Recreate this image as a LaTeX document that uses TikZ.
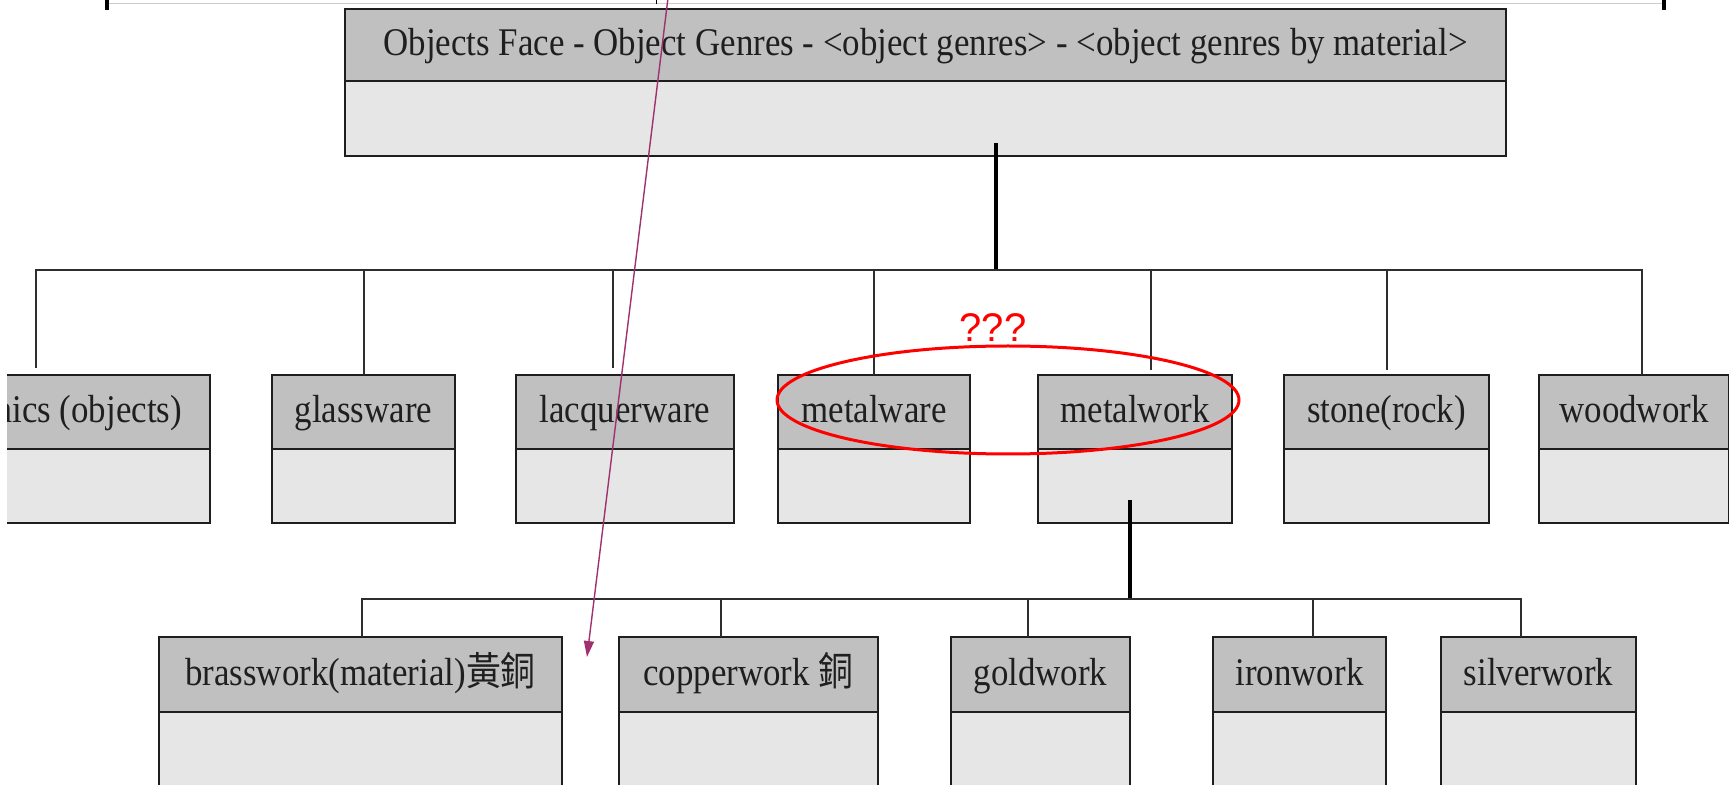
\documentclass[tikz,border=0pt]{standalone}
\usepackage{fontspec}
\setmainfont{Liberation Serif}[FakeStretch=0.89]
\newfontfamily\cjk{Noto Sans CJK TC}[FakeStretch=0.89]
\newfontfamily\notefont{Liberation Sans}
\usetikzlibrary{arrows.meta, positioning, shapes.geometric}
\definecolor{headgray}{HTML}{C0C0C0}
\definecolor{bodygray}{HTML}{E6E6E6}
\definecolor{boxline}{HTML}{1E1E1E}
\definecolor{wirec}{HTML}{2E2E2E}
\definecolor{plum}{HTML}{A0306E}

\begin{document}
\begin{tikzpicture}[x=0.5pt, y=-0.5pt,
    head/.style={draw=boxline, line width=1.4pt, fill=headgray, outer sep=0pt,
                 inner sep=0pt, minimum height=37pt, text=black!88,
                 text height=16pt, text depth=5pt, font=\fontsize{19.6}{22}\selectfont},
    body/.style={draw=boxline, line width=1.4pt, fill=bodygray, outer sep=0pt,
                 inner sep=0pt, minimum height=37pt, below=0pt of #1},
    wire/.style={draw=wirec, line width=1pt},
    trunk/.style={draw=black, line width=1.6pt},
  ]
    \useasboundingbox (0,0) rectangle (1729,785);
    \clip (7,0) rectangle (1729,785);

    % cropped page rule at the top
    \coordinate (rulel) at (107,4);
    \coordinate (ruler) at (1664,4);
    \coordinate (rulem) at (656,4);
    \draw[gray!40, line width=0.5pt] (rulel) -- (ruler);
    \draw[line width=2pt] ([yshift=2.5pt]rulel) -- ([yshift=-3pt]rulel);
    \draw[line width=2pt] ([yshift=2.5pt]ruler) -- ([yshift=-3pt]ruler);
    \draw[line width=0.5pt] ([yshift=2.5pt]rulem) -- (rulem);

    % root class
    \node[head, minimum width=580.5pt, minimum height=36pt] (root) at (925.5,45)
      {Objects Face - Object Genres - <object genres> - <object genres by material>};
    \node[body=root, minimum width=580.5pt, minimum height=37.5pt] (rootb) {};

    % genres by material
    \node[head, minimum width=155.5pt] (cer)    at (54.5,412)  {ceramics (objects)};
    \node[body=cer, minimum width=155.5pt] (cerb) {};
    \node[head, minimum width=91.5pt]  (glass)  at (363.5,412) {glassware};
    \node[body=glass, minimum width=91.5pt] (glassb) {};
    \node[head, minimum width=109pt]   (lacq)   at (625,412)   {lacquerware};
    \node[body=lacq, minimum width=109pt] (lacqb) {};
    \node[head, minimum width=96pt]    (mware)  at (874,412)   {metalware};
    \node[body=mware, minimum width=96pt] (mwareb) {};
    \node[head, minimum width=97pt]    (mwork)  at (1135,412)  {metalwork};
    \node[body=mwork, minimum width=97pt] (mworkb) {};
    \node[head, minimum width=102.5pt] (stone)  at (1386.5,412) {stone(rock)};
    \node[body=stone, minimum width=102.5pt] (stoneb) {};
    \node[head, minimum width=95pt]    (wood)   at (1634,412)  {woodwork};
    \node[body=wood, minimum width=95pt] (woodb) {};

    % kinds of metalwork
    \node[head, minimum width=201.5pt, minimum height=37.5pt] (brass) at (360.5,674.5)
      {brasswork(material){\cjk 黃銅}};
    \node[body=brass, minimum width=201.5pt] (brassb) {};
    \node[head, minimum width=129.5pt, minimum height=37.5pt] (copper) at (748.5,674.5)
      {copperwork {\cjk 銅}};
    \node[body=copper, minimum width=129.5pt] (copperb) {};
    \node[head, minimum width=89.5pt, minimum height=37.5pt] (gold) at (1040.5,674.5) {goldwork};
    \node[body=gold, minimum width=89.5pt] (goldb) {};
    \node[head, minimum width=86.5pt, minimum height=37.5pt] (iron) at (1299.5,674.5) {ironwork};
    \node[body=iron, minimum width=86.5pt] (ironb) {};
    \node[head, minimum width=97.5pt, minimum height=37.5pt] (silver) at (1538.5,674.5) {silverwork};
    \node[body=silver, minimum width=97.5pt] (silverb) {};

    % tree connectors
    \coordinate (rootout) at (996,143);
    \coordinate (bus1) at (996,270);
    \draw[trunk] (rootout) -- (bus1);
    \foreach \n/\dx/\gap in {cer/-9.25/3.5, glass/0/0, lacq/-6/3.5, mware/0/0,
                             mwork/8/2.5, stone/0/2.5, wood/4/0}
      \draw[wire, shorten <=\gap pt] ([xshift=\dx pt]\n.north) |- (bus1);

    \coordinate (mworkout) at (1130,500);
    \coordinate (bus2) at (1130,599);
    \draw[trunk] (mworkout) -- (bus2);
    \foreach \n/\dx in {brass/0.75, copper/-13.75, gold/-6.25, iron/6.75, silver/-8.75}
      \draw[wire] ([xshift=\dx pt]\n.north) |- (bus2);

    % annotations
    \node[ellipse, draw=red, line width=1.5pt, minimum width=231pt,
          minimum height=54pt] (ring) at (1008,400) {};
    \node[text=red, inner sep=0pt, font=\notefont\fontsize{20}{24}\selectfont]
      (ask) at (993,328) {???};
    \coordinate (notetail) at (668,-2);
    \coordinate (notehead) at (587,657);
    \draw[-{Triangle[length=8pt, width=5pt]}, plum, line width=0.7pt] (notetail) -- (notehead);
  \end{tikzpicture}
\end{document}
